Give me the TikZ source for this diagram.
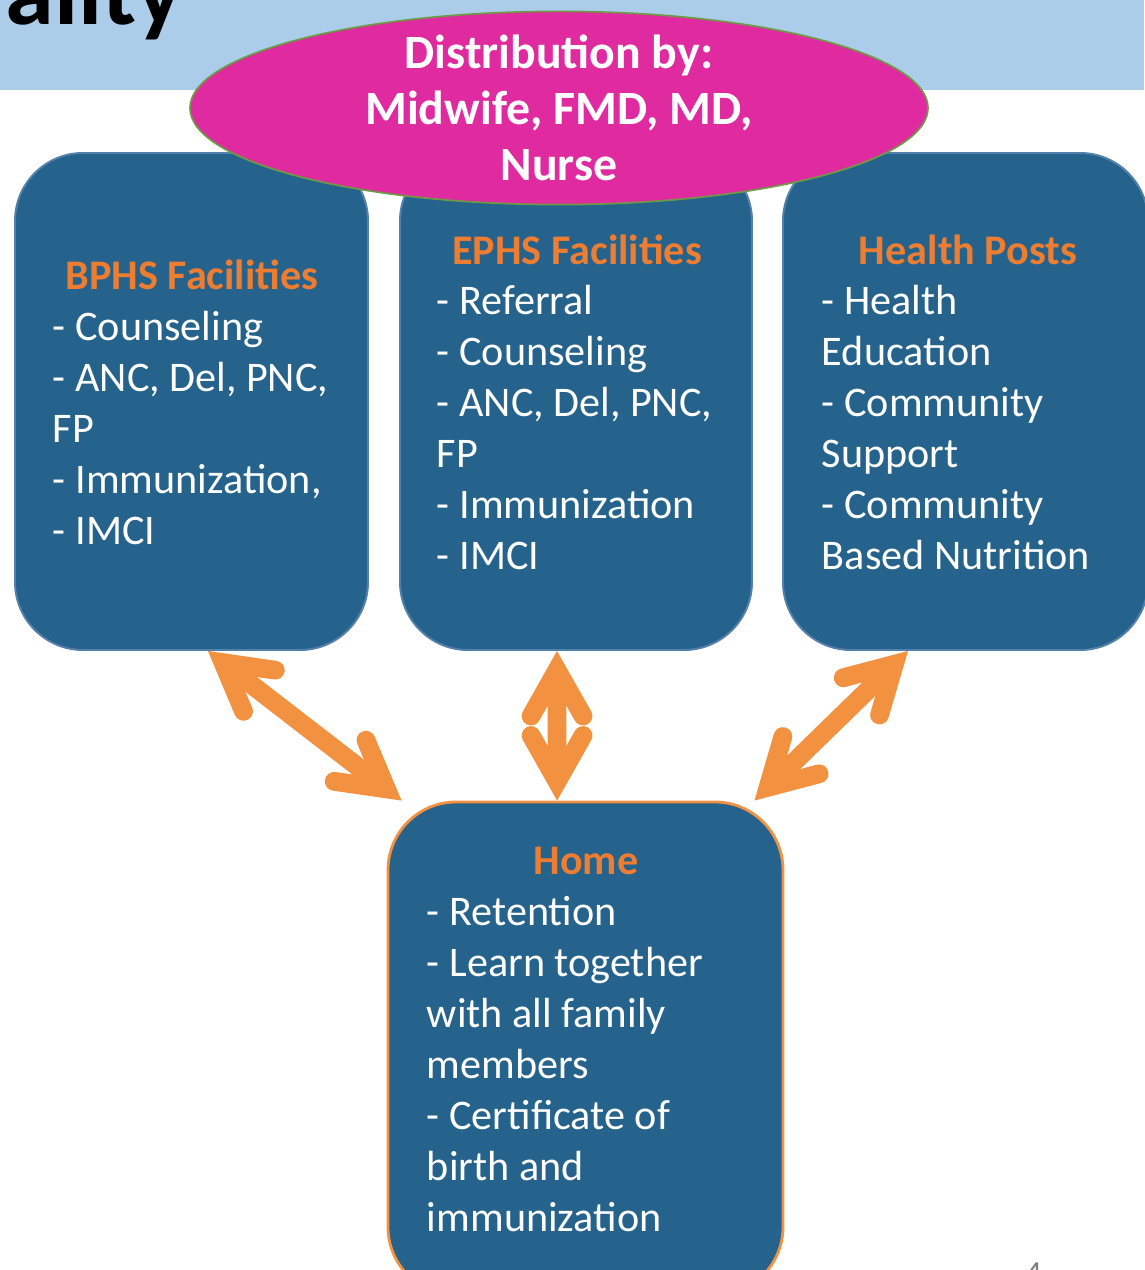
\documentclass[tikz,border=0pt]{standalone}
\usepackage{fontspec}
\setmainfont{Carlito}
\usetikzlibrary{shapes.geometric}
\usetikzlibrary{arrows.meta}
\usetikzlibrary{calc}
\definecolor{bandblue}{RGB}{171,205,234}
\definecolor{boxblue}{RGB}{37,98,140}
\definecolor{edgeblue}{RGB}{84,128,172}
\definecolor{titleorange}{RGB}{237,125,49}
\definecolor{arroworange}{RGB}{242,146,64}
\definecolor{distpink}{RGB}{224,43,160}
\definecolor{distgreen}{RGB}{110,154,70}

\begin{document}
\begin{tikzpicture}[scale=1.0,
    box/.style={draw=edgeblue,line width=1.4pt,fill=boxblue,rounded corners=1.7cm,
        minimum height=12.425cm,inner sep=0pt},
    boxtitle/.style={anchor=base,text=titleorange,font=\fontsize{30}{36}\selectfont\bfseries},
    item/.style={anchor=base west,text=white,font=\fontsize{30}{36}\selectfont},
    barb/.tip={Straight Barb[length=1.15cm,width=1.3cm,line cap=round,line join=miter]},
    link/.style={draw=arroworange,line width=0.47cm,barb-barb}]
                \path[use as bounding box] (0,0) rectangle (28.6,31.75);
                \fill[bandblue] (0,29.5) rectangle (28.6,31.75);
                \node[anchor=base east,font=\fontsize{70}{70}\selectfont\bfseries] (heading) at (4.7,31.13) {ality};

                \node[box,minimum width=8.825cm] (bphs) at (4.7875,21.7125) {};
                \node[box,minimum width=8.8cm] (ephs) at (14.4,21.7125) {};
                \node[box,minimum width=9.125cm] (posts) at (24.1375,21.7125) {};
                \node[box,draw=arroworange,line width=2pt,minimum width=9.875cm,
                    minimum height=12.325cm] (home) at (14.6375,5.5375) {};

                \node[ellipse,draw=distgreen,line width=1.2pt,fill=distpink,
                    minimum width=18.45cm,minimum height=4.83cm,inner sep=0pt] (dist) at (13.975,29.05) {};
                \node[align=center,text=white,font=\fontsize{34}{40}\selectfont\bfseries]
                    (distlabel) at (dist.center) {Distribution by:\\Midwife, FMD, MD,\\Nurse};

                \node[boxtitle] (bphstitle) at (4.8,24.5) {BPHS Facilities};
                \foreach \line [count=\i from 0] in {- Counseling,{- ANC, Del, PNC,},FP,{- Immunization,},- IMCI}
                    \node[item] (bphs-\i) at (1.2,23.225-1.275*\i) {\line};

                \node[boxtitle] (ephstitle) at (14.425,25.125) {EPHS Facilities};
                \foreach \line [count=\i from 0] in {- Referral,- Counseling,{- ANC, Del, PNC,},FP,- Immunization,- IMCI}
                    \node[item] (ephs-\i) at (10.8,23.875-1.275*\i) {\line};

                \node[boxtitle] (poststitle) at (24.2,25.125) {Health Posts};
                \foreach \line [count=\i from 0] in {- Health,Education,- Community,Support,- Community,Based Nutrition}
                    \node[item] (posts-\i) at (20.425,23.875-1.275*\i) {\line};

                \node[boxtitle] (hometitle) at (14.65,9.875) {Home};
                \foreach \line [count=\i from 0] in {- Retention,- Learn together,with all family,members,- Certificate of,birth and,immunization}
                    \node[item] (home-\i) at (10.55,8.6-1.275*\i) {\line};

                \draw[link] ($(bphs.south)+(0.41,0)$) -- ($(home.north west)+(0.375,0)$);
                \draw[link] ($(ephs.south)+(-0.475,0)$) -- ($(home.north)+(-0.71,0)$);
                \draw[link] ($(posts.south)+(-1.4375,0)$) -- ($(home.north east)+(-0.75,0)$);

                \node[anchor=base west,text=gray,font=\fontsize{24}{24}\selectfont] (page) at (25.5,-0.35) {4};
            \end{tikzpicture}
\end{document}
